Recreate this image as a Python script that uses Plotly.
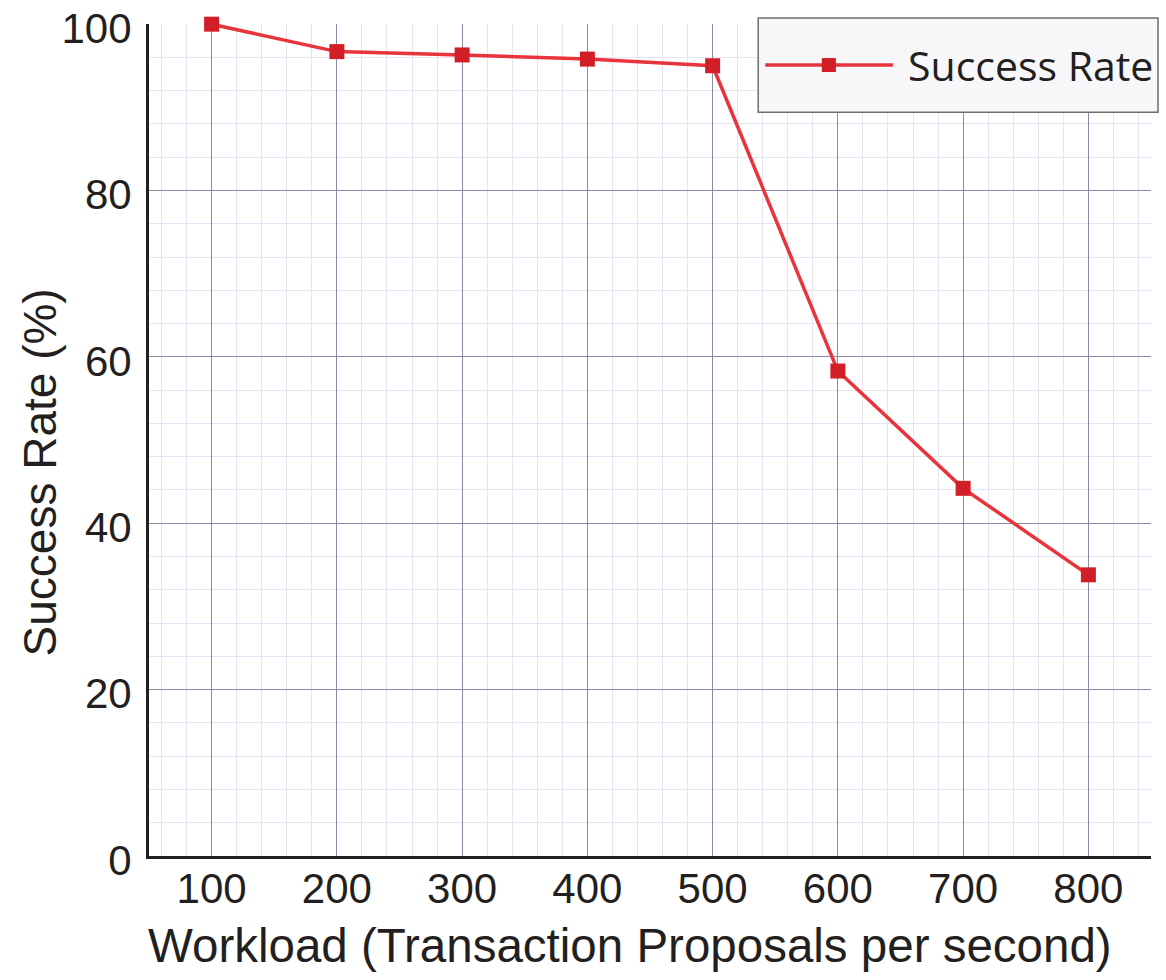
import plotly.graph_objects as go

# Workload (transaction proposals per second) and measured success rate (%)
workload = [100, 200, 300, 400, 500, 600, 700, 800]
success_rate = [100.0, 96.7, 96.3, 95.8, 95.0, 58.3, 44.2, 33.8]
series_name = "Success Rate"

x_ticks = [100, 200, 300, 400, 500, 600, 700, 800]
y_ticks = [0, 20, 40, 60, 80, 100]
x_title = "Workload (Transaction Proposals per second)"
y_title = "Success Rate (%)"

TICK_FONT = "Liberation Sans"
LEGEND_FONT = "Open Sans"
TITLE_FONT = "Liberation Sans"
TEXT = "#231f20"
MAJOR = "#8e8aa6"
MINOR = "#e6e3f2"
LINE_COLOR = "#e8343b"
MARKER_COLOR = "#d21f27"

fig = go.Figure()
fig.add_trace(go.Scatter(
    x=workload, y=success_rate, name=series_name,
    mode="lines+markers",
    line=dict(color=LINE_COLOR, width=3.5),
    marker=dict(symbol="square", size=15, color=MARKER_COLOR),
    cliponaxis=False, showlegend=False,
))

# Legend panel drawn in paper coordinates (long line sample with a centred marker)
fig.add_shape(type="rect", xref="paper", yref="paper",
              x0=0.608, x1=1.007, y0=0.894, y1=1.0072,
              fillcolor="#f7f7fa", line=dict(color="#6d6d6d", width=1.5), layer="above")
fig.add_shape(type="line", xref="paper", yref="paper",
              x0=0.615, x1=0.7425, y0=0.9507, y1=0.9507,
              line=dict(color=LINE_COLOR, width=3.5), layer="above")
fig.add_shape(type="rect", xref="paper", yref="paper",
              x0=0.6715, x1=0.6855, y0=0.9423, y1=0.9591,
              fillcolor=MARKER_COLOR, line=dict(width=0), layer="above")
fig.add_annotation(xref="paper", yref="paper", x=0.7555, y=0.9507,
                   xanchor="left", yanchor="middle", showarrow=False,
                   text=series_name, font=dict(size=41, family=LEGEND_FONT, color=TEXT))

# Axis titles
fig.add_annotation(xref="paper", yref="paper", x=0.48, y=-0.107,
                   xanchor="center", yanchor="middle", showarrow=False,
                   text=x_title, font=dict(size=47.5, family=TITLE_FONT, color=TEXT))
fig.add_annotation(xref="paper", yref="paper", x=-0.1088, y=0.461,
                   xanchor="center", yanchor="middle", showarrow=False, textangle=-90,
                   text=y_title, font=dict(size=46, family=TITLE_FONT, color=TEXT))

fig.update_layout(
    width=1166, height=980,
    margin=dict(l=149, r=15, t=24, b=124),
    paper_bgcolor="white", plot_bgcolor="white",
    font=dict(family=TICK_FONT, size=42, color=TEXT),
    showlegend=False,
)

fig.update_xaxes(
    range=[50, 850], tickvals=x_ticks, ticktext=[str(v) for v in x_ticks],
    showgrid=True, gridcolor=MAJOR, gridwidth=1,
    minor=dict(dtick=20, tick0=0, showgrid=True, gridcolor=MINOR, gridwidth=1),
    showline=True, linecolor=TEXT, linewidth=3,
    zeroline=False, ticks="", ticklabelstandoff=-6, automargin=False,
    tickfont=dict(size=42, family=TICK_FONT),
)
fig.update_yaxes(
    range=[0, 100.02], tickvals=y_ticks, ticktext=[str(v) for v in y_ticks],
    showgrid=True, gridcolor=MAJOR, gridwidth=1,
    minor=dict(dtick=4, tick0=0, showgrid=True, gridcolor=MINOR, gridwidth=1),
    showline=True, linecolor=TEXT, linewidth=3,
    zeroline=False, ticks="", ticklabelstandoff=6, ticklabelshift=4,
    automargin=False, ticklabeloverflow="allow",
    tickfont=dict(size=42, family=TICK_FONT),
)

fig.write_html("out.html")
